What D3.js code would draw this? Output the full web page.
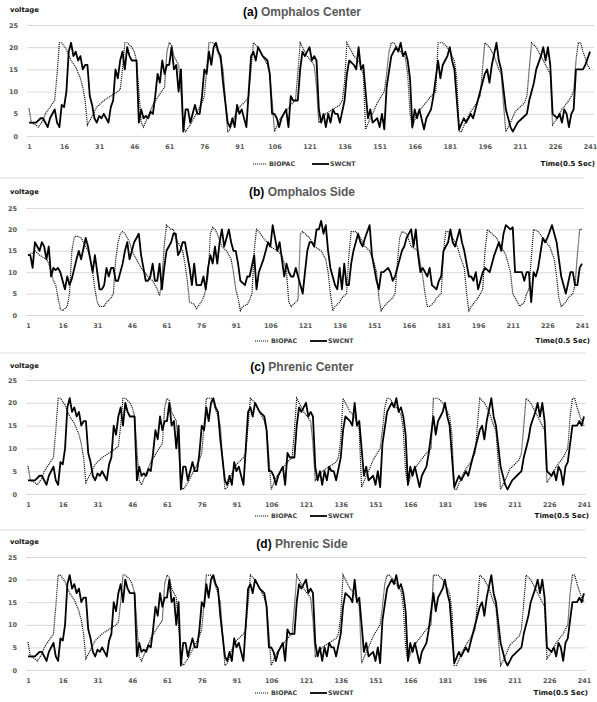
<!DOCTYPE html>
<html>
<head>
<meta charset="utf-8">
<script src="https://cdn.jsdelivr.net/npm/d3@7"></script>
<style>
  body { margin: 0; background: #fff; }
  svg { display: block; }
</style>
</head>
<body>
<div id="chart"></div>
<script>
// sample index (0.5 s steps) and voltage at the corners of each trace
var bioA = [[1,6.2],[2,3],[4,2.5],[5,2],[7,3.5],[8,5],[10,6.5],[12,8],[13,14],[14,21],[15,21],[17,19.5],[19,17],[21,15.5],[23,13],[24,11],[25,8],[26,2.5],[28,4.5],[30,6.5],[33,8],[36,9],[39,10],[40,10.5],[41,15],[42,21],[43,21],[45,20],[46,19],[47,17],[48,10],[49,3],[50,2],[52,4.5],[54,7],[57,9.5],[59,11],[60,19],[61,21],[62,20.5],[63,18],[64,17],[65,16],[66,10],[67,2],[68,1],[70,2.5],[73,5.5],[75,7.5],[76,9],[77,15],[78,21],[80,21],[81,20],[83,17],[84,15],[85,8],[86,1],[87,1.5],[89,4.5],[91,6.5],[94,8],[95,9],[96,15],[97,21],[99,20],[101,18],[103,16],[104,14],[105,8],[106,1],[108,3.5],[110,5],[113,7],[115,8],[116,14],[117,21],[118,20],[120,18],[123,16],[124,11],[125,3],[126,3.5],[128,5],[131,6],[134,7],[135,8],[136,12],[137,21],[138,20],[140,18],[142,17],[144,14],[145,1.5],[147,4],[148,5],[150,7.5],[153,10],[154,14],[155,19],[156,21],[157,21],[160,19],[162,17.5],[163,14],[164,5],[165,2],[167,5],[170,7],[173,9],[175,10],[176,21],[178,21],[180,20],[183,17],[184,13],[185,1],[186,1],[188,3.5],[190,5.5],[192,7],[194,9],[195,15],[196,21],[198,20],[200,18],[202,15],[203,14],[204,7],[205,1],[207,3],[209,5.5],[211,6.5],[213,7.5],[214,9],[215,15],[216,21],[218,20],[221,17],[224,14],[225,2.5],[227,4],[229,6],[232,8],[234,10],[235,17],[236,21],[237,21],[238,19],[240,16],[241,15]];

var swA = [[1,3],[3,3],[4,3],[6,4],[7,4],[9,2],[10,4],[12,6],[13,3],[14,2],[15,7],[16,6.5],[17,10],[18,19],[19,21],[20,18],[21,19],[22,17],[23,18],[24,15],[25,16],[26,16],[27,9],[28,7],[29,4],[30,3],[31,4.5],[32,4],[33,5],[34,4],[35,3],[36,6.5],[37,8],[38,15],[39,13],[40,17],[41,19],[42,15],[43,20],[44,18],[45,17],[46,17],[47,17],[48,3],[49,6],[50,4],[51,4.5],[52,4],[53,5.5],[54,5],[55,9],[56,14],[57,12],[58,17],[59,14],[60,16],[61,16],[62,20],[63,15],[64,16],[65,10],[66,15],[67,1],[68,6],[69,6],[70,3],[71,5],[72,7],[73,5],[74,5],[75,9],[76,15],[77,14],[78,19],[79,16],[80,20],[81,21],[82,19],[83,18],[84,12],[86,3],[87,2],[88,4],[89,2],[90,7],[91,5],[92,6],[94,2],[96,18],[97,19],[98,17],[99,20],[100,19],[101,18],[103,17],[104,14],[105,5],[106,5],[107,4],[108,2],[109,4],[111,6],[112,2],[113,9],[114,8],[116,8],[117,15],[118,19],[119,18],[120,19],[121,20],[122,17],[123,18],[124,17],[125,6],[126,3],[127,5],[128,2],[129,5],[130,3],[131,6],[132,5],[133,5],[134,3],[136,8],[137,14],[138,17],[140,16],[141,15],[142,20],[143,15],[144,16],[146,4],[147,6],[148,3],[150,4],[151,2],[152,5],[153,1.5],[154,11],[156,18],[158,20],[159,19],[160,21],[161,18],[162,19],[163,17],[164,13],[165,2],[166,6],[167,4],[168,6],[170,1.5],[171,4],[172,5],[173,6],[174,9],[176,17],[177,13],[178,16],[179,17],[180,18],[181,20],[182,17],[183,15],[185,1.5],[187,4],[188,3],[189,4],[190,5],[191,4],[192,6],[193,8],[196,14],[197,15],[198,12],[199,16],[201,21],[202,17],[203,15],[205,6],[207,2],[208,1],[210,3],[212,4],[214,5],[215,8],[217,12],[218,15],[220,18],[221,20],[222,17],[223,20],[224,16],[225,5],[227,4],[228,5],[229,3],[230,6],[231,5],[232,2],[233,5],[234,6],[235,15],[238,15],[239,16],[241,19]];

var bioB = [[1,14],[3,14.5],[4,15],[6,14],[9,13],[10,12],[11,10],[12,8],[13,7],[14,4],[15,1.5],[16,1],[18,2],[19,5],[20,15],[21,18],[22,18.5],[24,18],[25,17],[27,15],[28,13],[29,10],[30,6],[31,3],[32,2],[34,2],[35,3],[37,4],[38,5],[39,13],[40,17],[41,19],[42,19.5],[43,19],[45,17],[46,15],[48,13],[50,11],[53,9],[55,8],[57,6],[58,4.5],[59,8],[60,16],[61,21],[63,20],[64,20],[65,18],[68,15],[69,12],[70,8],[71,3],[73,2.5],[74,1.5],[76,3],[77,4],[78,6],[79,9],[80,19],[81,20.5],[82,20],[83,19],[85,16],[87,15],[89,13],[90,10],[91,6],[92,4],[93,1],[94,2],[96,2.5],[97,3.5],[98,5],[99,15],[100,20],[101,19.5],[103,18],[106,16],[109,15],[111,14],[112,12],[113,10],[114,3],[115,2],[116,2.5],[117,3],[118,3.5],[119,19],[120,19.5],[123,18],[125,16],[128,15],[130,13],[131,10],[132,5],[133,1],[134,2],[136,3],[137,4],[139,5],[140,14],[141,19.5],[143,19.5],[145,18],[147,16],[149,15],[151,12],[152,10],[153,4],[154,1],[156,2.5],[157,3],[159,4],[160,5],[161,12],[162,18],[163,19.5],[165,19],[167,16],[170,15],[171,12],[172,9],[173,5],[174,2],[175,2],[177,3],[178,4],[180,5],[181,15],[182,19.5],[183,19.5],[185,18],[187,16],[188,14],[190,11],[191,5],[192,1],[193,2],[196,4],[197,5],[198,6],[199,15],[200,20],[201,19.5],[204,18],[206,16],[208,14],[210,10],[211,5],[214,2],[216,3],[217,5],[218,6],[219,13],[220,20],[222,19.5],[224,18],[227,16],[229,13],[230,9],[231,4],[232,2],[234,3],[235,4],[237,5],[238,7],[239,14],[240,20],[241,20]];

var swB = [[1,14],[2,14],[3,11],[4,17],[5,16],[6,15],[7,17],[8,16],[9,13],[10,16],[11,9],[12,11],[13,10.5],[14,11],[15,10],[17,6],[18,9],[19,7],[20,8.5],[22,13],[23,15],[24,13],[26,18],[27,16],[29,10],[30,14],[31,10],[32,6],[33,6],[34,7],[35,11],[36,9],[37,11],[38,11],[39,8],[40,8],[41,10],[42,12],[43,15],[44,17],[45,13],[46,15],[47,17],[48,18],[49,19],[50,14],[51,11],[52,8],[53,8],[54,9],[55,12],[56,8],[57,8],[58,12],[59,6],[60,11],[61,15],[62,16],[63,17],[64,19],[65,19],[66,14],[67,15],[68,17],[69,17],[70,14],[71,11],[72,7],[73,12],[74,7],[75,7],[76,7],[77,9],[78,6],[79,11],[80,14],[81,12],[82,16],[83,12],[84,17],[85,20],[86,16],[88,20],[89,17],[90,15],[91,15],[92,12],[93,8],[94,7.5],[95,7],[96,9],[97,9],[99,14],[100,6],[101,10],[103,13],[104,15],[105,17],[106,16],[107,21],[108,18],[109,15],[110,17],[111,13],[112,9],[113,12],[114,10],[115,9],[116,9],[117,11],[118,9],[119,7],[120,5],[121,10],[122,15],[123,17],[124,17],[125,16],[126,20],[127,20],[128,22],[129,19],[130,21],[131,15],[132,11],[133,9],[134,7],[135,6],[136,11],[137,6],[138,12],[139,7],[140,7],[141,12],[142,15],[143,17],[144,19],[145,17],[146,16],[147,18],[149,21],[150,14],[151,11],[152,8],[153,6],[154,10],[155,10],[157,11],[158,10],[159,8],[160,9],[162,13],[163,15],[164,16],[165,18],[166,19],[167,20],[168,16],[169,20],[170,14],[171,10],[172,11],[174,9],[175,11],[176,7],[178,6],[179,8],[180,9],[181,15],[183,17],[184,20],[185,17],[186,16],[188,20],[189,17],[190,15],[192,9],[193,9],[194,8],[195,10],[196,6],[198,10],[199,11],[201,10],[203,14],[205,17],[206,15],[207,19],[208,21],[210,20],[211,20.5],[212,10],[214,10],[215,10],[216,8],[217,10],[218,10],[219,3],[220,10],[221,9],[222,11],[224,18],[225,17],[226,18],[228,21],[229,19],[230,17],[231,13],[232,9],[233,7],[234,5],[236,10],[237,10],[238,7],[239,7],[240,11],[241,12]];

// phrenic traces: same shape as omphalos center, the tail differs
var swC = [[1,3],[3,3],[4,3],[6,4],[7,4],[9,2],[10,4],[12,6],[13,3],[14,2],[15,7],[16,6.5],[17,10],[18,19],[19,21],[20,18],[21,19],[22,17],[23,18],[24,15],[25,16],[26,16],[27,9],[28,7],[29,4],[30,3],[31,4.5],[32,4],[33,5],[34,4],[35,3],[36,6.5],[37,8],[38,15],[39,13],[40,17],[41,19],[42,15],[43,20],[44,18],[45,17],[46,17],[47,17],[48,3],[49,6],[50,4],[51,4.5],[52,4],[53,5.5],[54,5],[55,9],[56,14],[57,12],[58,17],[59,14],[60,16],[61,16],[62,20],[63,15],[64,16],[65,10],[66,15],[67,1],[68,6],[69,6],[70,3],[71,5],[72,7],[73,5],[74,5],[75,9],[76,15],[77,14],[78,19],[79,16],[80,20],[81,21],[82,19],[83,18],[84,12],[86,3],[87,2],[88,4],[89,2],[90,7],[91,5],[92,6],[94,2],[96,18],[97,19],[98,17],[99,20],[100,19],[101,18],[103,17],[104,14],[105,5],[106,5],[107,4],[108,2],[109,4],[111,6],[112,2],[113,9],[114,8],[116,8],[117,15],[118,19],[119,18],[120,19],[121,20],[122,17],[123,18],[124,17],[125,6],[126,3],[127,5],[128,2],[129,5],[130,3],[131,6],[132,5],[133,5],[134,3],[136,8],[137,14],[138,17],[140,16],[141,15],[142,20],[143,15],[144,16],[146,4],[147,6],[148,3],[150,4],[151,2],[152,5],[153,1.5],[154,11],[156,18],[158,20],[159,19],[160,21],[161,18],[162,19],[163,17],[164,13],[165,2],[166,6],[167,4],[168,6],[170,1.5],[171,4],[172,5],[173,6],[174,9],[176,17],[177,13],[178,16],[179,17],[180,18],[181,20],[182,17],[183,15],[185,1.5],[187,4],[188,3],[189,4],[190,5],[191,4],[192,6],[193,8],[196,14],[197,15],[198,12],[199,16],[201,21],[202,17],[203,15],[205,6],[207,2],[208,1],[210,3],[212,4],[214,5],[215,8],[217,12],[218,15],[220,18],[221,20],[222,17],[223,20],[224,16],[225,5],[227,4],[228,5],[229,3],[230,6],[231,5],[232,2],[233,6],[234,7],[236,15],[238,15],[239,16],[240,15],[241,17]];

var xTicks = [1, 16, 31, 46, 61, 76, 91, 106, 121, 136, 151, 166, 181, 196, 211, 226, 241];
var yTicks = [0, 5, 10, 15, 20, 25];
var seriesNames = ["BIOPAC", "SWCNT"];
var panelTags = ["(a)", "(b)", "(c)", "(d)"];
var panelNames = ["Omphalos Center", "Omphalos Side", "Phrenic Center", "Phrenic Side"];

// page layout of the four stacked charts
var layout = [
  {y0: 136, y25: 25,  x1: 29, x241: 590, gl: 27, gr: 594, title: 12,  volt: 10,  leg: 164, sep: null, dot: 253, sw: 312, time: 595},
  {y0: 315, y25: 208, x1: 28, x241: 582, gl: 26, gr: 584, title: 192, volt: 192, leg: 341, sep: 178,  dot: 255, sw: 310, time: 590},
  {y0: 494, y25: 380, x1: 28, x241: 584, gl: 26, gr: 586, title: 367, volt: 366, leg: 516, sep: 353,  dot: 255, sw: 310, time: 589},
  {y0: 670, y25: 557, x1: 28, x241: 584, gl: 26, gr: 586, title: 544, volt: 542, leg: 693, sep: 530,  dot: 255, sw: 310, time: 588}
];
var traces = [[bioA, swA], [bioB, swB], [bioA, swC], [bioA, swC]];

var svg = d3.select("#chart").append("svg")
  .attr("width", 597)
  .attr("height", 702)
  .style("font-family", "'DejaVu Sans', sans-serif");

layout.forEach(function(p, k) {
  var g = svg.append("g");

  var x = d3.scaleLinear().domain([1, 241]).range([p.x1, p.x241]);
  var y = d3.scaleLinear().domain([0, 25]).range([p.y0, p.y25]);

  if (p.sep != null) {
    g.append("line")
      .attr("x1", 0).attr("x2", p.gr)
      .attr("y1", p.sep).attr("y2", p.sep)
      .attr("stroke", "#e0e0e0").attr("stroke-width", 1);
  }

  // y grid + labels
  g.append("g")
    .attr("transform", "translate(" + p.gl + ",0)")
    .call(d3.axisLeft(y).tickValues(yTicks).tickSize(-(p.gr - p.gl)).tickPadding(9))
    .call(function(a) { a.select(".domain").remove(); })
    .call(function(a) { a.selectAll("line").attr("stroke", "#d9d9d9"); })
    .call(function(a) {
      a.selectAll("text")
        .attr("fill", "#595959")
        .style("font-size", "6.5px")
        .style("font-weight", "bold")
        .style("font-family", "'DejaVu Sans', sans-serif");
    });

  // x labels
  g.append("g")
    .attr("transform", "translate(0," + p.y0 + ")")
    .call(d3.axisBottom(x).tickValues(xTicks).tickSize(0).tickPadding(8.5))
    .call(function(a) { a.select(".domain").remove(); })
    .call(function(a) {
      a.selectAll("text")
        .attr("fill", "#595959")
        .style("font-size", "6.5px")
        .style("font-weight", "bold")
        .style("font-family", "'DejaVu Sans', sans-serif");
    });

  var line = d3.line()
    .x(function(d) { return x(d[0]); })
    .y(function(d) { return y(d[1]); });

  g.append("path")
    .datum(traces[k][0])
    .attr("d", line)
    .attr("fill", "none")
    .attr("stroke", "#111")
    .attr("stroke-width", 1.2)
    .attr("stroke-dasharray", "1.1,0.9");

  g.append("path")
    .datum(traces[k][1])
    .attr("d", line)
    .attr("fill", "none")
    .attr("stroke", "#000")
    .attr("stroke-width", 1.8)
    .attr("stroke-linejoin", "round");

  // title
  var t = g.append("text")
    .attr("x", 302).attr("y", p.title).attr("dy", "0.35em")
    .attr("text-anchor", "middle")
    .style("font-family", "'Liberation Sans', Arial, sans-serif")
    .style("font-size", "12px")
    .style("font-weight", "bold");
  t.append("tspan").attr("fill", "#000").text(panelTags[k]);
  t.append("tspan").attr("fill", "#595959").text(" " + panelNames[k]);

  g.append("text")
    .attr("x", 10).attr("y", p.volt).attr("dy", "0.35em")
    .attr("fill", "#111")
    .style("font-size", "6.8px")
    .style("font-weight", "bold")
    .text("voltage");

  // legend
  g.append("line")
    .attr("x1", p.dot).attr("x2", p.dot + 14)
    .attr("y1", p.leg).attr("y2", p.leg)
    .attr("stroke", "#111").attr("stroke-width", 1.2)
    .attr("stroke-dasharray", "1.1,0.9");
  g.append("text")
    .attr("x", p.dot + 16).attr("y", p.leg).attr("dy", "0.35em")
    .attr("fill", "#404040")
    .style("font-size", "6.3px")
    .style("font-weight", "bold")
    .text(seriesNames[0]);

  g.append("line")
    .attr("x1", p.sw).attr("x2", p.sw + 17)
    .attr("y1", p.leg).attr("y2", p.leg)
    .attr("stroke", "#000").attr("stroke-width", 1.8);
  g.append("text")
    .attr("x", p.sw + 18).attr("y", p.leg).attr("dy", "0.35em")
    .attr("fill", "#404040")
    .style("font-size", "6.3px")
    .style("font-weight", "bold")
    .text(seriesNames[1]);

  g.append("text")
    .attr("x", p.time).attr("y", p.leg).attr("dy", "0.35em")
    .attr("text-anchor", "end")
    .attr("fill", "#111")
    .style("font-size", "7px")
    .style("font-weight", "bold")
    .text("Time(0.5 Sec)");
});
</script>
</body>
</html>
